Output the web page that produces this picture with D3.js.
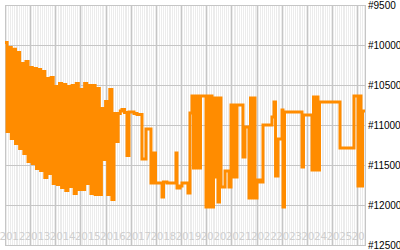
<!DOCTYPE html>
<html><head><meta charset="utf-8">
<script src="https://cdn.jsdelivr.net/npm/d3@7/dist/d3.min.js"></script>
<style>html,body{margin:0;padding:0;background:#fff;}svg{display:block;}</style>
</head><body>
<script>
// ---- data ----
const yearLabels = [2012,2013,2014,2015,2016,2017,2018,2019,2020,2021,2022,2023,2024,2025,2026];
const rankTicks = [9500,10000,10500,11000,11500,12000,12500];
// monthly readings from Jan 2012 (alternating high / low rank of the oscillating period)
const monthlyRanks = [9970,11081,10031,11169,10052,11231,10094,11294,10231,11356,10206,11456,
  10281,11481,10294,11544,10306,11569,10331,11656,10419,11606,10406,11731,
  10519,11744,10481,11781,10494,11819,10519,11769,10506,11856,10481,11806,
  10556,11806,10481,11731,10506,11856,10506,11869,10544,11869,10794,11431,
  10706,11869,10556,11931,10856,11206,10856,10825];
// later change points: [decimal year, rank]
const stepPoints = [
 [2016.652,10806],[2016.751,10844],[2016.851,11381],[2016.930,10838],[2017.129,10856],[2017.249,10869],
 [2017.447,11425],[2017.606,11050],[2017.805,11725],[2017.924,11350],[2017.984,11725],[2018.243,11900],
 [2018.302,11713],[2018.441,11725],[2018.799,11350],[2018.839,11788],[2018.958,11763],[2019.038,11725],
 [2019.276,11850],[2019.356,10850],[2019.435,10638],[2019.495,11538],[2019.555,10638],[2019.614,11538],
 [2019.674,10638],[2019.734,11538],[2019.773,10638],[2019.992,12025],[2020.052,10638],[2020.111,12025],
 [2020.171,10638],[2020.231,12025],[2020.290,10663],[2020.350,11650],[2020.410,10663],[2020.469,11963],
 [2020.529,10663],[2020.588,11775],[2020.748,11575],[2020.907,11775],[2020.986,10750],[2021.046,11650],
 [2021.105,10750],[2021.165,11650],[2021.225,10750],[2021.463,11400],[2021.543,11025],[2021.702,11913],
 [2021.761,10663],[2021.821,11913],[2021.881,10663],[2021.940,11913],[2022.020,11688],[2022.139,11713],
 [2022.258,11000],[2022.616,10900],[2022.696,10713],[2022.757,11638],[2022.855,11175],[2023.014,10813],
 [2023.054,12025],[2023.113,10838],[2023.809,11525],[2023.869,10875],[2024.207,11563],[2024.266,10650],
 [2024.326,11563],[2024.386,10650],[2024.445,11563],[2024.505,10713],[2025.320,11288],[2025.877,10638],
 [2026.036,11763],[2026.095,10638],[2026.155,11763],[2026.215,10825],[2026.354,10825]
];

// ---- layout ----
const W = 400, H = 250;
const L = 5, R = 365, T = 5, B = 245;
const svg = d3.select("body").append("svg").attr("width", W).attr("height", H);

const x = d3.scaleLinear().domain([2012, 2026.314]).range([L, R]);
const y = d3.scaleLinear().domain([9500, 12500]).range([T, B]);

const series = monthlyRanks.map((v, i) => [2012 + i / 12, v]).concat(stepPoints);

// background with monthly stripes
svg.append("rect").attr("x", L).attr("y", T).attr("width", R - L).attr("height", B - T).attr("fill", "#ececec");
const months = d3.range(0, 12 * 15).map(m => 2012 + m / 12).filter(t => t <= 2026.314);
svg.append("g").selectAll("line").data(months).join("line")
  .attr("x1", d => Math.round(x(d)) + 0.5).attr("x2", d => Math.round(x(d)) + 0.5)
  .attr("y1", T).attr("y2", B).attr("stroke", "#fff").attr("stroke-width", 1);

svg.append("clipPath").attr("id", "pc").append("rect")
  .attr("x", L).attr("y", T).attr("width", R - L).attr("height", B - T);
svg.append("clipPath").attr("id", "lc").append("rect")
  .attr("x", -20).attr("y", T).attr("width", R + 20).attr("height", B - T);

// year labels (inside plot, light grey)
svg.append("g").attr("clip-path", "url(#lc)").selectAll("text").data(yearLabels).join("text")
  .attr("x", d => x(d) - 5.5).attr("y", 240)
  .attr("font-family", "DejaVu Sans").attr("font-size", 10.5).attr("letter-spacing", -0.3)
  .attr("fill", "#cfcfcf")
  .text(d => d);

// major grid
svg.append("g").selectAll("line").data(yearLabels).join("line")
  .attr("x1", d => Math.round(x(d)) + 0.5).attr("x2", d => Math.round(x(d)) + 0.5)
  .attr("y1", T).attr("y2", B).attr("stroke", "#c6c6c6");
svg.append("g").selectAll("line").data(rankTicks).join("line")
  .attr("x1", L).attr("x2", R + 1)
  .attr("y1", d => Math.round(y(d)) + 0.5).attr("y2", d => Math.round(y(d)) + 0.5)
  .attr("stroke", "#c6c6c6");
svg.append("line").attr("x1", R + 0.5).attr("x2", R + 0.5).attr("y1", T).attr("y2", B).attr("stroke", "#c6c6c6");

// line
const line = d3.line().x(d => x(d[0])).y(d => y(d[1])).curve(d3.curveStepAfter);
svg.append("path").datum(series).attr("clip-path", "url(#pc)")
  .attr("d", line).attr("fill", "none").attr("stroke", "#ff8c00").attr("stroke-width", 3);

// right axis labels
svg.append("g").selectAll("text").data(rankTicks).join("text")
  .attr("x", 368).attr("y", d => y(d)).attr("dy", "0.35em")
  .attr("font-family", "Liberation Sans").attr("font-size", 10).attr("fill", "#000")
  .text(d => "#" + d);
</script>
</body></html>
